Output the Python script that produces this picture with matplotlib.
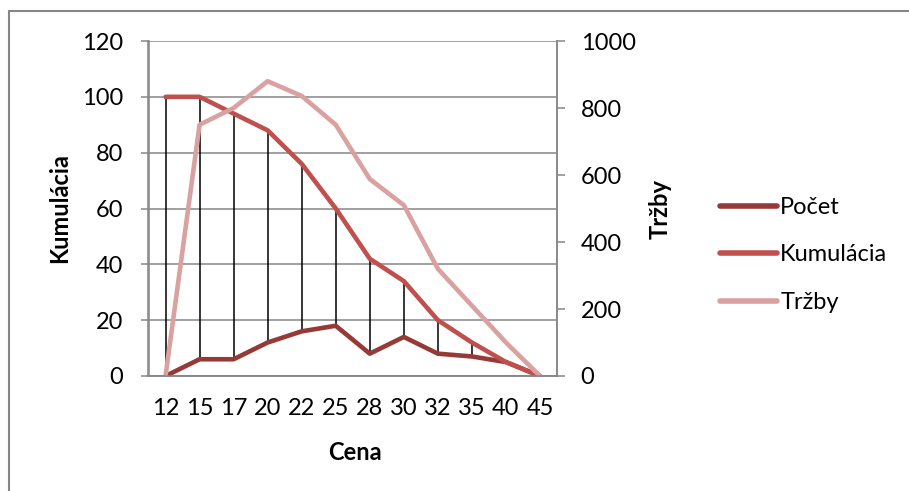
import matplotlib
matplotlib.use("Agg")
import matplotlib.pyplot as plt
from matplotlib.patches import Rectangle

# Data: price levels, count, cumulative count and revenue
ceny = ["12", "15", "17", "20", "22", "25", "28", "30", "32", "35", "40", "45"]
pocet = [0, 6, 6, 12, 16, 18, 8, 14, 8, 7, 5, 0]
kumulacia = [100, 100, 94, 88, 76, 60, 42, 34, 20, 12, 5, 0]
trzby = [0, 750, 800, 880, 836, 750, 588, 510, 320, 210, 100, 0]

left_ticks = [0, 20, 40, 60, 80, 100, 120]
right_ticks = [0, 200, 400, 600, 800, 1000]

C_POCET = "#963a37"
C_KUM = "#c0504d"
C_TRZBY = "#d9a19f"
GRID = "#868686"
FONT = "Lato"
FS = 17

W, H = 909, 491
fig = plt.figure(figsize=(W / 100, H / 100), dpi=100)
plt.rcParams["font.family"] = [FONT, "DejaVu Sans"]

# outer chart frame (runs off the right and bottom edges)
fig.patches.append(Rectangle((9 / W, -0.2), 1.2, 1.2 - 11 / H,
                             transform=fig.transFigure, fill=False,
                             edgecolor=GRID, linewidth=1.5, clip_on=False))

x0, x1 = 148.5, 557.0
y0, y1 = 376.0, 41.0
ax = fig.add_axes([x0 / W, (H - y0) / H, (x1 - x0) / W, (y0 - y1) / H])
ax2 = ax.twinx()

xs = list(range(len(ceny)))

# high-low lines between the two left-axis series
lows = [min(a, b) for a, b in zip(pocet, kumulacia)]
highs = [max(a, b) for a, b in zip(pocet, kumulacia)]
ax.vlines(xs, lows, highs, colors="black", linewidth=1.1, zorder=2)

style = dict(linewidth=3.3, solid_capstyle="round", solid_joinstyle="round")
l1, = ax.plot(xs, pocet, color=C_POCET, zorder=3, label="Počet", **style)
l2, = ax.plot(xs, kumulacia, color=C_KUM, zorder=3, label="Kumulácia", **style)
l3, = ax2.plot(xs, trzby, color=C_TRZBY, label="Tržby", **style)

ax.set_xlim(-0.5, len(ceny) - 0.5)
ax.set_ylim(0, 120)
ax2.set_ylim(0, 1000)
ax.set_yticks(left_ticks)
ax2.set_yticks(right_ticks)
ax.set_xticks(xs)
ax.set_xticklabels(ceny)

ax.yaxis.grid(True, color=GRID, linewidth=1.1)
ax.set_axisbelow(True)

for a in (ax, ax2):
    a.spines["top"].set_visible(False)
    for s in ("left", "right", "bottom"):
        a.spines[s].set_color(GRID)
        a.spines[s].set_linewidth(1.1)
    a.patch.set_visible(False)

ax.tick_params(axis="y", length=6, width=1.1, color=GRID, pad=12, labelsize=FS)
ax2.tick_params(axis="y", length=6, width=1.1, color=GRID, pad=11, labelsize=FS)
ax.tick_params(axis="x", length=0, pad=16, labelsize=FS)

fig.text(60 / W, 1 - 208 / H, "Kumulácia", rotation=90, ha="center", va="center",
         fontsize=FS, fontweight="bold")
fig.text(660 / W, 1 - 209 / H, "Tržby", rotation=90, ha="center", va="center",
         fontsize=FS, fontweight="bold")
fig.text(355 / W, 1 - 452 / H, "Cena", ha="center", va="center",
         fontsize=FS, fontweight="bold")

leg = ax.legend(handles=[l1, l2, l3], loc="upper left",
                bbox_to_anchor=(720 / W, 1 - 197 / H), bbox_transform=fig.transFigure,
                frameon=False, fontsize=FS, handlelength=2.4, handletextpad=0.15,
                labelspacing=1.12, borderaxespad=0, borderpad=0)
for h in leg.legend_handles:
    h.set_linewidth(4)

fig.savefig("out.png", dpi=100)
